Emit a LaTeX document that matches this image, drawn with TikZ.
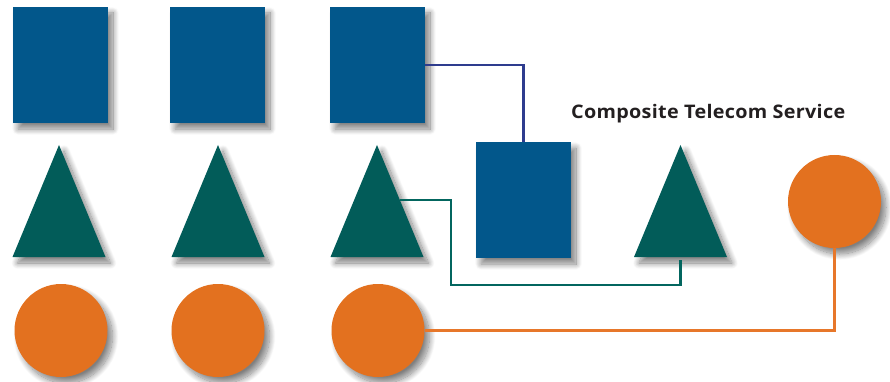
\documentclass[tikz,border=0pt]{standalone}
\usepackage{fontspec}
\setmainfont{Open Sans}
\usetikzlibrary{shadows.blur,calc}
\definecolor{sqblue}{HTML}{02578B}
\definecolor{trteal}{HTML}{025C59}
\definecolor{crorange}{HTML}{E3711F}
\definecolor{linkblue}{HTML}{2E3C8E}
\definecolor{linkteal}{HTML}{03665F}
\definecolor{linkorange}{HTML}{E7772A}
\definecolor{titleink}{HTML}{231F20}
\tikzset{
  softshadow/.style={blur shadow={shadow xshift=5pt, shadow yshift=-6pt,
      shadow blur radius=6pt, shadow blur steps=14, shadow opacity=50}},
  sqbox/.style={rectangle, fill=sqblue, minimum width=95pt, minimum height=116pt,
      inner sep=0pt, softshadow},
  disc/.style={circle, fill=crorange, minimum size=93pt, inner sep=0pt, softshadow},
  tri/.style={fill=trteal, softshadow},
  link/.style={line width=2.3pt},
}
\begin{document}
\begin{tikzpicture}[x=1pt, y=-1pt]
\useasboundingbox (0,0) rectangle (890,382);

% blocks in the first three columns
\foreach \i/\x in {1/60.5, 2/217.5, 3/377.5} {
  \node[sqbox] (sq\i) at (\x,65) {};
  \node[disc] (c\i) at (\x+0.5,330.5) {};
}
% triangles: apex, left base corner, right base corner
\foreach \i/\x in {1/59, 2/218, 3/377, 4/680.5} {
  \coordinate (t\i-top) at (\x,145);
  \coordinate (t\i-bl) at (\x-46.5,257);
  \coordinate (t\i-br) at (\x+46.5,257);
  \coordinate (t\i-base) at (\x,257);
  \fill[tri] (t\i-top) -- (t\i-bl) -- (t\i-br) -- cycle;
}

% composite service parts
\node[sqbox] (sq4) at (523.5,200) {};
\node[disc] (c4) at (834.5,201.5) {};

\node[anchor=base west, inner sep=0pt, text=titleink] (title) at (571,119)
  {\resizebox{274pt}{14.2pt}{\fontsize{19pt}{22pt}\selectfont\bfseries\addfontfeature{LetterSpace=1.5}Composite Telecom Service}};

% links
\coordinate (t3side) at ($(t3-top)!0.49!(t3-br)$);
\coordinate (tealdrop) at (451,285);
\draw[link, linkblue] (sq3.east) -| (sq4.north);
\draw[link, linkteal] (t3side) -| (tealdrop) -| ($(t4-base)+(0,3)$);
\draw[link, linkorange] (c3.east) -| (c4.south);
\end{tikzpicture}
\end{document}
